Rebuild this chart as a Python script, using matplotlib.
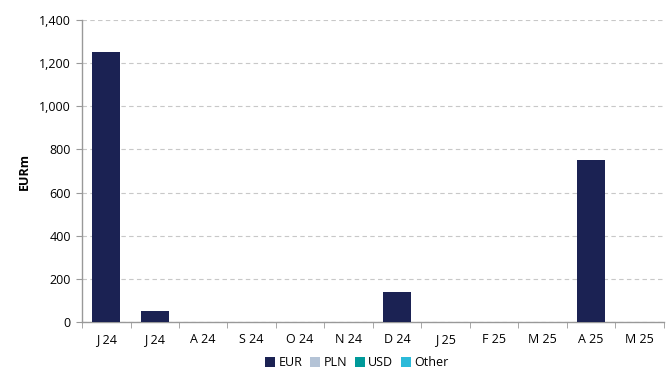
import matplotlib
matplotlib.use("Agg")
import matplotlib.pyplot as plt
import numpy as np

months = ["J 24", "J 24", "A 24", "S 24", "O 24", "N 24", "D 24", "J 25", "F 25", "M 25", "A 25", "M 25"]
eur = [1250, 50, 0, 0, 0, 0, 140, 0, 0, 0, 750, 0]
pln = [0] * 12
usd = [0] * 12
other = [0] * 12
y_ticks = [0, 200, 400, 600, 800, 1000, 1200, 1400]

plt.rcParams["font.family"] = ["Open Sans", "DejaVu Sans"]

fig = plt.figure(figsize=(6.67, 3.71), dpi=100)
ax = fig.add_axes([0.123, 0.132, 0.872, 0.814])

x = np.arange(len(months))
w = 0.58
series = [("EUR", eur, "#1b2253"), ("PLN", pln, "#b4c3d6"),
          ("USD", usd, "#009a9a"), ("Other", other, "#2bbad9")]
bottom = np.zeros(len(months))
for name, vals, col in series:
    ax.bar(x, vals, w, bottom=bottom, color=col, label=name, zorder=3)
    bottom += np.array(vals)

ax.set_xlim(-0.5, len(months) - 0.5)
ax.set_ylim(0, 1400)
ax.set_yticks(y_ticks)
ax.set_yticklabels([f"{v:,}" for v in y_ticks], fontsize=9)
ax.set_xticks(x)
ax.set_xticklabels(months, fontsize=9)
ax.set_xticks(np.arange(-0.5, len(months)), minor=True)
ax.tick_params(axis="x", which="major", length=0, pad=8)
ax.tick_params(axis="x", which="minor", length=4, color="#999999", direction="out")
ax.tick_params(axis="y", length=4, color="#999999", direction="out", pad=4)

ax.grid(axis="y", linestyle=(0, (4, 3)), color="#c8c8c8", linewidth=0.8, zorder=0)
for s in ["top", "right"]:
    ax.spines[s].set_visible(False)
for s in ["left", "bottom"]:
    ax.spines[s].set_color("#999999")
    ax.spines[s].set_linewidth(1)

ax.set_ylabel("EURm", fontsize=9, fontweight="bold", labelpad=6)

fig.legend(loc="center", bbox_to_anchor=(0.535, 0.022), ncol=4, frameon=False,
           fontsize=9, handlelength=0.8, handleheight=0.8, handletextpad=0.3,
           columnspacing=0.6, borderpad=0.1)

fig.savefig("out.png", dpi=100)
